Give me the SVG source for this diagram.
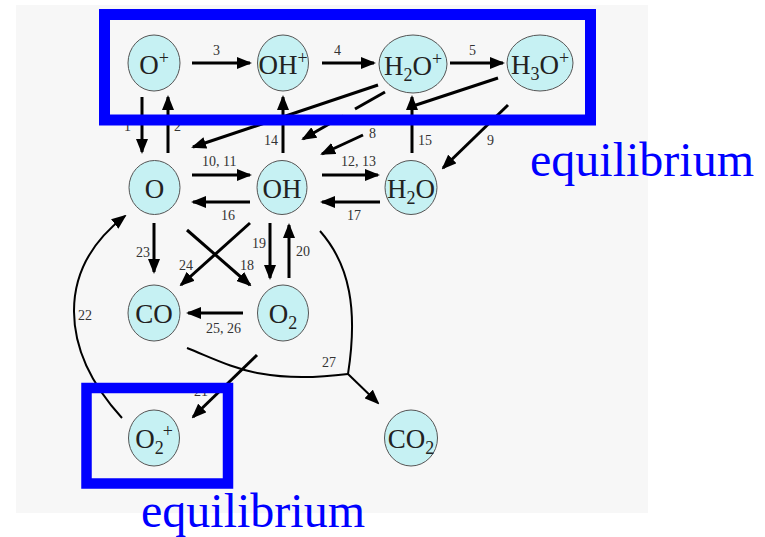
<svg xmlns="http://www.w3.org/2000/svg" width="765" height="537" viewBox="0 0 765 537">
<defs>
<marker id="ah" viewBox="0 0 15 12" refX="13" refY="6" markerWidth="15" markerHeight="12" markerUnits="userSpaceOnUse" orient="auto"><path d="M0,0 L15,6 L0,12 z" fill="#000"/></marker>
</defs>
<style>
.node ellipse{fill:#c6f1f3;stroke:#555;stroke-width:1}
.node text{font-family:"Liberation Serif","Times New Roman",serif;font-size:27px;fill:#222;text-anchor:middle}
.s{font-size:18px}
.c line,.c path{stroke:#000;stroke-width:3;fill:none}
.c .thin{stroke-width:2}
.a{marker-end:url(#ah)}
.lbl text{font-family:"Liberation Serif","Times New Roman",serif;font-size:14px;fill:#333}
.box{fill:none;stroke:#0000ff}
.eq{font-family:"Liberation Serif","Times New Roman",serif;font-size:48px;fill:#0000ff}
</style>
<rect x="16" y="5" width="632" height="508" fill="#f7f7f7"/>
<g id="connectors" class="c">
<line class="a" x1="192" y1="63" x2="250" y2="63"/>
<line class="a" x1="322" y1="63" x2="374" y2="63"/>
<line class="a" x1="450" y1="63" x2="503" y2="63"/>
<line class="a" x1="142" y1="97" x2="142" y2="152"/>
<line class="a" x1="168" y1="153" x2="168" y2="97"/>
<line class="a" x1="283" y1="153" x2="283" y2="97"/>
<line class="a" x1="412" y1="153" x2="412" y2="97"/>
<line class="a" x1="378" y1="85" x2="193" y2="147"/>
<line x1="385" y1="92" x2="355" y2="109"/>
<line class="a" x1="343" y1="116" x2="303" y2="139"/>
<line class="a" x1="363" y1="135" x2="322" y2="154"/>
<line x1="498" y1="78" x2="413" y2="106"/>
<line class="a" x1="508" y1="105" x2="443" y2="168"/>
<line class="a" x1="192" y1="175" x2="250" y2="175"/>
<line class="a" x1="250" y1="202" x2="193" y2="202"/>
<line class="a" x1="322" y1="175" x2="378" y2="175"/>
<line class="a" x1="380" y1="202" x2="322" y2="202"/>
<line class="a" x1="154" y1="223" x2="154" y2="272"/>
<line class="a" x1="250" y1="223" x2="181" y2="285"/>
<line class="a" x1="187" y1="230" x2="250" y2="285"/>
<line class="a" x1="270" y1="223" x2="270" y2="278"/>
<line class="a" x1="289" y1="278" x2="289" y2="225"/>
<line class="a" x1="243" y1="313" x2="188" y2="313"/>
<line class="a" x1="257" y1="355" x2="193" y2="417"/>
<path class="a thin" d="M122,418 C60,350 55,270 125,216"/>
<path class="thin" d="M187,348 C230,365 260,385 348,374"/>
<path class="thin" d="M320,231 C350,265 358,310 348,374"/>
<line class="a thin" x1="348" y1="374" x2="378" y2="403"/>
</g>
<g id="labels" class="lbl">
<text x="213" y="55">3</text>
<text x="334" y="55">4</text>
<text x="469" y="55">5</text>
<text x="124" y="131">1</text>
<text x="174" y="131">2</text>
<text x="234" y="125">6</text>
<text x="335" y="125">7</text>
<text x="369" y="138">8</text>
<text x="487" y="145">9</text>
<text x="264" y="145">14</text>
<text x="418" y="145">15</text>
<text x="202" y="166">10, 11</text>
<text x="341" y="166">12, 13</text>
<text x="221" y="220">16</text>
<text x="347" y="220">17</text>
<text x="136" y="257">23</text>
<text x="179" y="270">24</text>
<text x="240" y="270">18</text>
<text x="252" y="248">19</text>
<text x="296" y="256">20</text>
<text x="78" y="320">22</text>
<text x="206" y="333">25, 26</text>
<text x="322" y="367">27</text>
<text x="194" y="396">21</text>
</g>
<g id="n-Op" class="node"><ellipse cx="154" cy="63" rx="26" ry="28"/><text x="154" y="74">O<tspan class="s" dy="-10">+</tspan></text></g>
<g id="n-OHp" class="node"><ellipse cx="283" cy="63" rx="25.5" ry="28"/><text x="283" y="74">OH<tspan class="s" dy="-10">+</tspan></text></g>
<g id="n-H2Op" class="node"><ellipse cx="413" cy="64" rx="34" ry="29"/><text x="413" y="75">H<tspan class="s" dy="6">2</tspan><tspan dy="-6">O</tspan><tspan class="s" dy="-10">+</tspan></text></g>
<g id="n-H3Op" class="node"><ellipse cx="540" cy="63" rx="33" ry="28"/><text x="540" y="74">H<tspan class="s" dy="6">3</tspan><tspan dy="-6">O</tspan><tspan class="s" dy="-10">+</tspan></text></g>
<g id="n-O" class="node"><ellipse cx="154.5" cy="187.5" rx="25.5" ry="27"/><text x="154.5" y="197.5">O</text></g>
<g id="n-OH" class="node"><ellipse cx="282" cy="187.5" rx="25" ry="27"/><text x="282" y="197.5">OH</text></g>
<g id="n-H2O" class="node"><ellipse cx="411" cy="187.5" rx="26" ry="27"/><text x="411" y="197.5">H<tspan class="s" dy="6">2</tspan><tspan dy="-6">O</tspan></text></g>
<g id="n-CO" class="node"><ellipse cx="154" cy="313" rx="26" ry="28"/><text x="154" y="323">CO</text></g>
<g id="n-O2" class="node"><ellipse cx="283" cy="313" rx="25.5" ry="28"/><text x="283" y="323">O<tspan class="s" dy="6">2</tspan></text></g>
<g id="n-O2p" class="node"><ellipse cx="154" cy="438" rx="25.5" ry="28"/><text x="154" y="448">O<tspan class="s" dy="6">2</tspan><tspan class="s" dx="-1" dy="-17">+</tspan></text></g>
<g id="n-CO2" class="node"><ellipse cx="411" cy="438" rx="26.5" ry="28"/><text x="411" y="448">CO<tspan class="s" dy="6">2</tspan></text></g>
<g id="equilibrium-top">
<rect class="box" x="104.5" y="14.5" width="486" height="105.5" stroke-width="11"/>
<text class="eq" x="530" y="176">equilibrium</text>
</g>
<g id="equilibrium-bottom">
<rect class="box" x="86.5" y="388" width="141.5" height="95.5" stroke-width="10.5"/>
<text class="eq" x="141" y="527">equilibrium</text>
</g>
</svg>
